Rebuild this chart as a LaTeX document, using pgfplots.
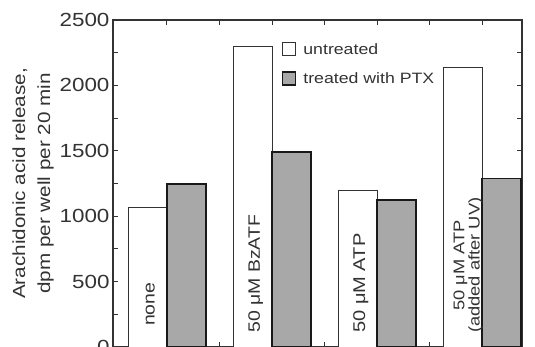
\documentclass[border=0pt]{standalone}
\usepackage{pgfplots}
\pgfplotsset{compat=1.18}
\usepackage{fontspec}
\setmainfont{Liberation Sans}[FakeStretch=1.18]
\definecolor{ax}{gray}{0.2}
\definecolor{barfill}{gray}{0.66}
\begin{document}
\begin{tikzpicture}
\begin{axis}[
  scale only axis, width=409bp, height=327bp,
  xmin=-0.514, xmax=3.38, ymin=0, ymax=2500,
  axis line style={line width=1.1bp, ax},
  ytick={0,500,...,2500}, minor ytick={250,750,...,2250},
  xtick={0.5,1.5,2.5}, minor xtick={0,1,2,3},
  xticklabels={},
  yticklabel pos=left,
  tick align=inside, major tick length=5bp, minor tick length=5bp,
  every tick/.style={line width=1bp, ax},
  /pgf/number format/assume math mode=true,
  /pgf/number format/1000 sep={},
  ticklabel style={font=\fontsize{19bp}{22bp}\selectfont, text=black!80},
  ylabel={Arachidonic acid release,\\dpm per well per 20 min},
  ylabel style={align=center, font=\fontsize{17.5bp}{25bp}\selectfont, text=black!80, yshift=-1bp},
  legend style={draw=none, fill=none, at={(rel axis cs:0.413,0.935)}, anchor=north west,
    font=\fontsize{15bp}{17bp}\selectfont, text=black!80, row sep=13bp, inner sep=0pt, cells={anchor=west},
    /tikz/every odd column/.style={column sep=5bp}},
  clip=false,
]
\addplot[ybar, bar width=0.371, bar shift=-0.1855, fill=white, draw=ax, line width=1bp,
  legend image code/.code={\draw[fill=white, draw=ax, line width=1bp] (0bp,-6bp) rectangle (13bp,7bp);}]
  coordinates {(0,1070) (1,2296) (2,1200) (3,2135)};
\addlegendentry{untreated}
\addplot[ybar, bar width=0.371, bar shift=0.1855, fill=barfill, draw=black!90, line width=1.3bp,
  legend image code/.code={\draw[fill=barfill, draw=black!90, line width=1.3bp] (0bp,-6bp) rectangle (13bp,7bp);}]
  coordinates {(0,1246) (1,1490) (2,1124) (3,1287)};
\addlegendentry{treated with PTX}
\node[rotate=90, anchor=west, inner sep=0pt, font=\fontsize{16.5bp}{18bp}\selectfont, text=black!80] at (axis cs:-0.16,160) {none};
\node[rotate=90, anchor=west, inner sep=0pt, font=\fontsize{16.5bp}{18bp}\selectfont, text=black!80] at (axis cs:0.845,107) {50 μM BzATF};
\node[rotate=90, anchor=west, inner sep=0pt, font=\fontsize{17bp}{18bp}\selectfont, text=black!80] at (axis cs:1.845,107) {50 μM ATP};
\node[rotate=90, anchor=west, inner sep=0pt, align=center, font=\fontsize{15.5bp}{13bp}\selectfont, text=black!80] at (axis cs:2.868,107) {50 μM ATP\\(added after UV)};
\coordinate (bl) at (rel axis cs:0,0);
\end{axis}
\pgfresetboundingbox
\useasboundingbox ([xshift=-113bp]bl) rectangle ([xshift=422bp,yshift=347bp]bl);
\end{tikzpicture}
\end{document}
